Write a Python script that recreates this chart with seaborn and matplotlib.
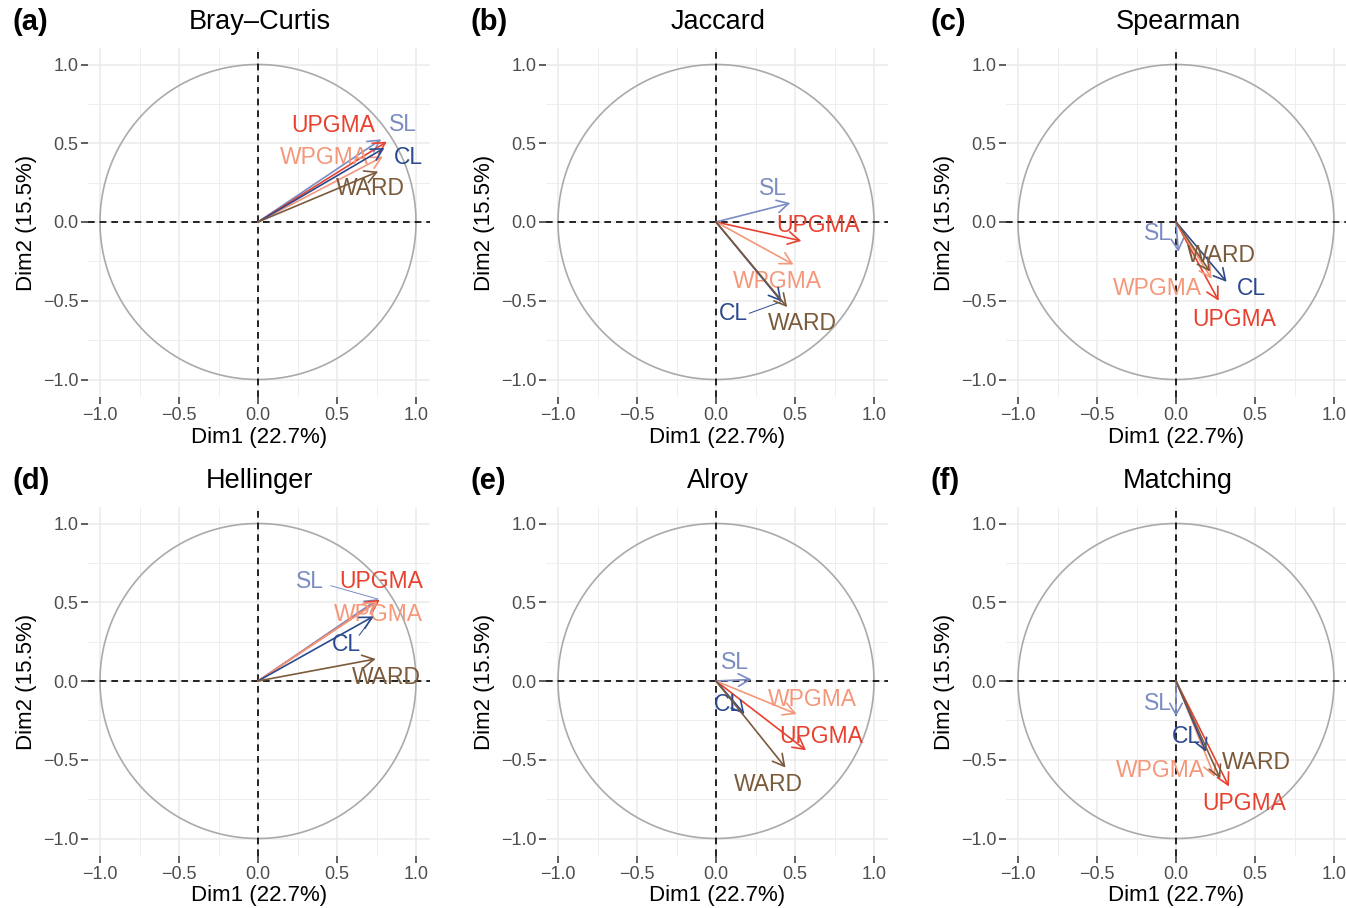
import numpy as np
import pandas as pd
import matplotlib
matplotlib.use('Agg')
import matplotlib.pyplot as plt
import seaborn as sns

# %% data (variable coordinates on Dim1 / Dim2)
methods = ['SL', 'UPGMA', 'WPGMA', 'CL', 'WARD']
panel_tags = ['(a)', '(b)', '(c)', '(d)', '(e)', '(f)']
panel_titles = ['Bray\u2013Curtis', 'Jaccard', 'Spearman', 'Hellinger', 'Alroy', 'Matching']

dim1 = {
    'Bray\u2013Curtis': [0.78, 0.815, 0.79, 0.80, 0.76],
    'Jaccard':          [0.47, 0.54, 0.49, 0.415, 0.45],
    'Spearman':         [0.015, 0.27, 0.225, 0.32, 0.215],
    'Hellinger':        [0.76, 0.77, 0.757, 0.73, 0.745],
    'Alroy':            [0.225, 0.57, 0.51, 0.18, 0.44],
    'Matching':         [0.0, 0.335, 0.245, 0.19, 0.28],
}
dim2 = {
    'Bray\u2013Curtis': [0.525, 0.51, 0.415, 0.47, 0.32],
    'Jaccard':          [0.12, -0.12, -0.27, -0.505, -0.54],
    'Spearman':         [-0.19, -0.50, -0.36, -0.38, -0.315],
    'Hellinger':        [0.52, 0.515, 0.505, 0.41, 0.14],
    'Alroy':            [0.01, -0.44, -0.21, -0.21, -0.55],
    'Matching':         [-0.225, -0.67, -0.61, -0.45, -0.62],
}

x_ticks = [-1.0, -0.5, 0.0, 0.5, 1.0]
x_label = 'Dim1 (22.7%)'
y_label = 'Dim2 (15.5%)'

# %% styling / layout (label placement as produced by repel)
colors = {'SL': '#7b8cc2', 'UPGMA': '#e8412f', 'WPGMA': '#f5977a',
          'CL': '#2c4a8e', 'WARD': '#7b5a3c'}
label_xy = {
    'Bray\u2013Curtis': [(0.92, 0.62), (0.475, 0.61), (0.42, 0.41), (0.95, 0.41), (0.71, 0.21)],
    'Jaccard':          [(0.36, 0.21), (0.645, -0.02), (0.39, -0.38), (0.11, -0.58), (0.55, -0.645)],
    'Spearman':         [(-0.115, -0.075), (0.37, -0.62), (-0.115, -0.42), (0.48, -0.42), (0.29, -0.215)],
    'Hellinger':        [(0.33, 0.63), (0.78, 0.63), (0.76, 0.425), (0.56, 0.23), (0.81, 0.025)],
    'Alroy':            [(0.12, 0.115), (0.665, -0.355), (0.61, -0.115), (0.08, -0.15), (0.33, -0.655)],
    'Matching':         [(-0.115, -0.14), (0.43, -0.775), (-0.10, -0.57), (0.065, -0.35), (0.51, -0.52)],
}
# labels pushed far from their arrow get a connector segment
connectors = {('Jaccard', 'CL'): (0.21, -0.58), ('Hellinger', 'SL'): (0.46, 0.605),
              ('Hellinger', 'CL'): (0.64, 0.29)}

W, H = 1346, 908
sns.set_theme(style='whitegrid')
plt.rcParams['font.family'] = ['Liberation Sans', 'DejaVu Sans']

fig = plt.figure(figsize=(W / 100, H / 100), dpi=100)

col_origin = [258, 716, 1176]
row_origin = [222, 681]
ppu = 158.0

theta = np.linspace(0, 2 * np.pi, 400)
circle = pd.DataFrame({'x': np.cos(theta), 'y': np.sin(theta)})

for i, name in enumerate(panel_titles):
    r, c = divmod(i, 3)
    ox, oy = col_origin[c], row_origin[r]
    left, right = ox - 170, min(ox + 172, W)
    top, bottom = oy - 174, oy + 175
    ax = fig.add_axes([left / W, 1 - bottom / H, (right - left) / W, (bottom - top) / H])
    ax.set_facecolor('white')

    ax.set_xticks(x_ticks)
    ax.set_yticks(x_ticks)
    ax.set_xticks([-0.75, -0.25, 0.25, 0.75], minor=True)
    ax.set_yticks([-0.75, -0.25, 0.25, 0.75], minor=True)
    ax.grid(which='major', color='#ebebeb', lw=1.1)
    ax.grid(which='minor', color='#ebebeb', lw=0.6)
    for s in ax.spines.values():
        s.set_visible(False)
    ax.tick_params(which='major', length=5, width=1.1, color='#333333', pad=2,
                   labelsize=13, labelcolor='#4d4d4d', bottom=True, left=True)
    ax.tick_params(which='minor', length=0)

    sns.lineplot(data=circle, x='x', y='y', sort=False, estimator=None,
                 color='#aaaaaa', lw=1.2, ax=ax, legend=False)
    ax.axhline(0, color='black', lw=1.2, ls=(0, (4, 3)))
    ax.axvline(0, color='black', lw=1.2, ls=(0, (4, 3)))

    for m, x, y, (lx, ly) in zip(methods, dim1[name], dim2[name], label_xy[name]):
        ax.annotate('', xy=(x, y), xytext=(0, 0),
                    arrowprops=dict(arrowstyle='->,head_length=0.55,head_width=0.3',
                                    color=colors[m], lw=1.2, shrinkA=0, shrinkB=0,
                                    mutation_scale=15))
        if (name, m) in connectors:
            sx, sy = connectors[(name, m)]
            ax.plot([sx, x], [sy, y], color=colors[m], lw=0.7)
        ax.text(lx, ly, m, color=colors[m], fontsize=16.5, ha='center', va='center')

    ax.set_xlim((left - ox) / ppu, (right - ox) / ppu)
    ax.set_ylim(-(bottom - oy) / 157.5, (oy - top) / 157.5)
    ax.set_xlabel(x_label, fontsize=16, color='black', labelpad=2)
    ax.set_ylabel(y_label, fontsize=16, color='black', labelpad=4)

    fig.text((ox + 2) / W, 1 - (oy - 200) / H, name, fontsize=19.5, color='black',
             ha='center', va='center')
    fig.text((ox - 246) / W, 1 - (oy - 200) / H, panel_tags[i], fontsize=21,
             color='black', fontweight='bold', ha='left', va='center')

fig.savefig('out.png', dpi=100)
